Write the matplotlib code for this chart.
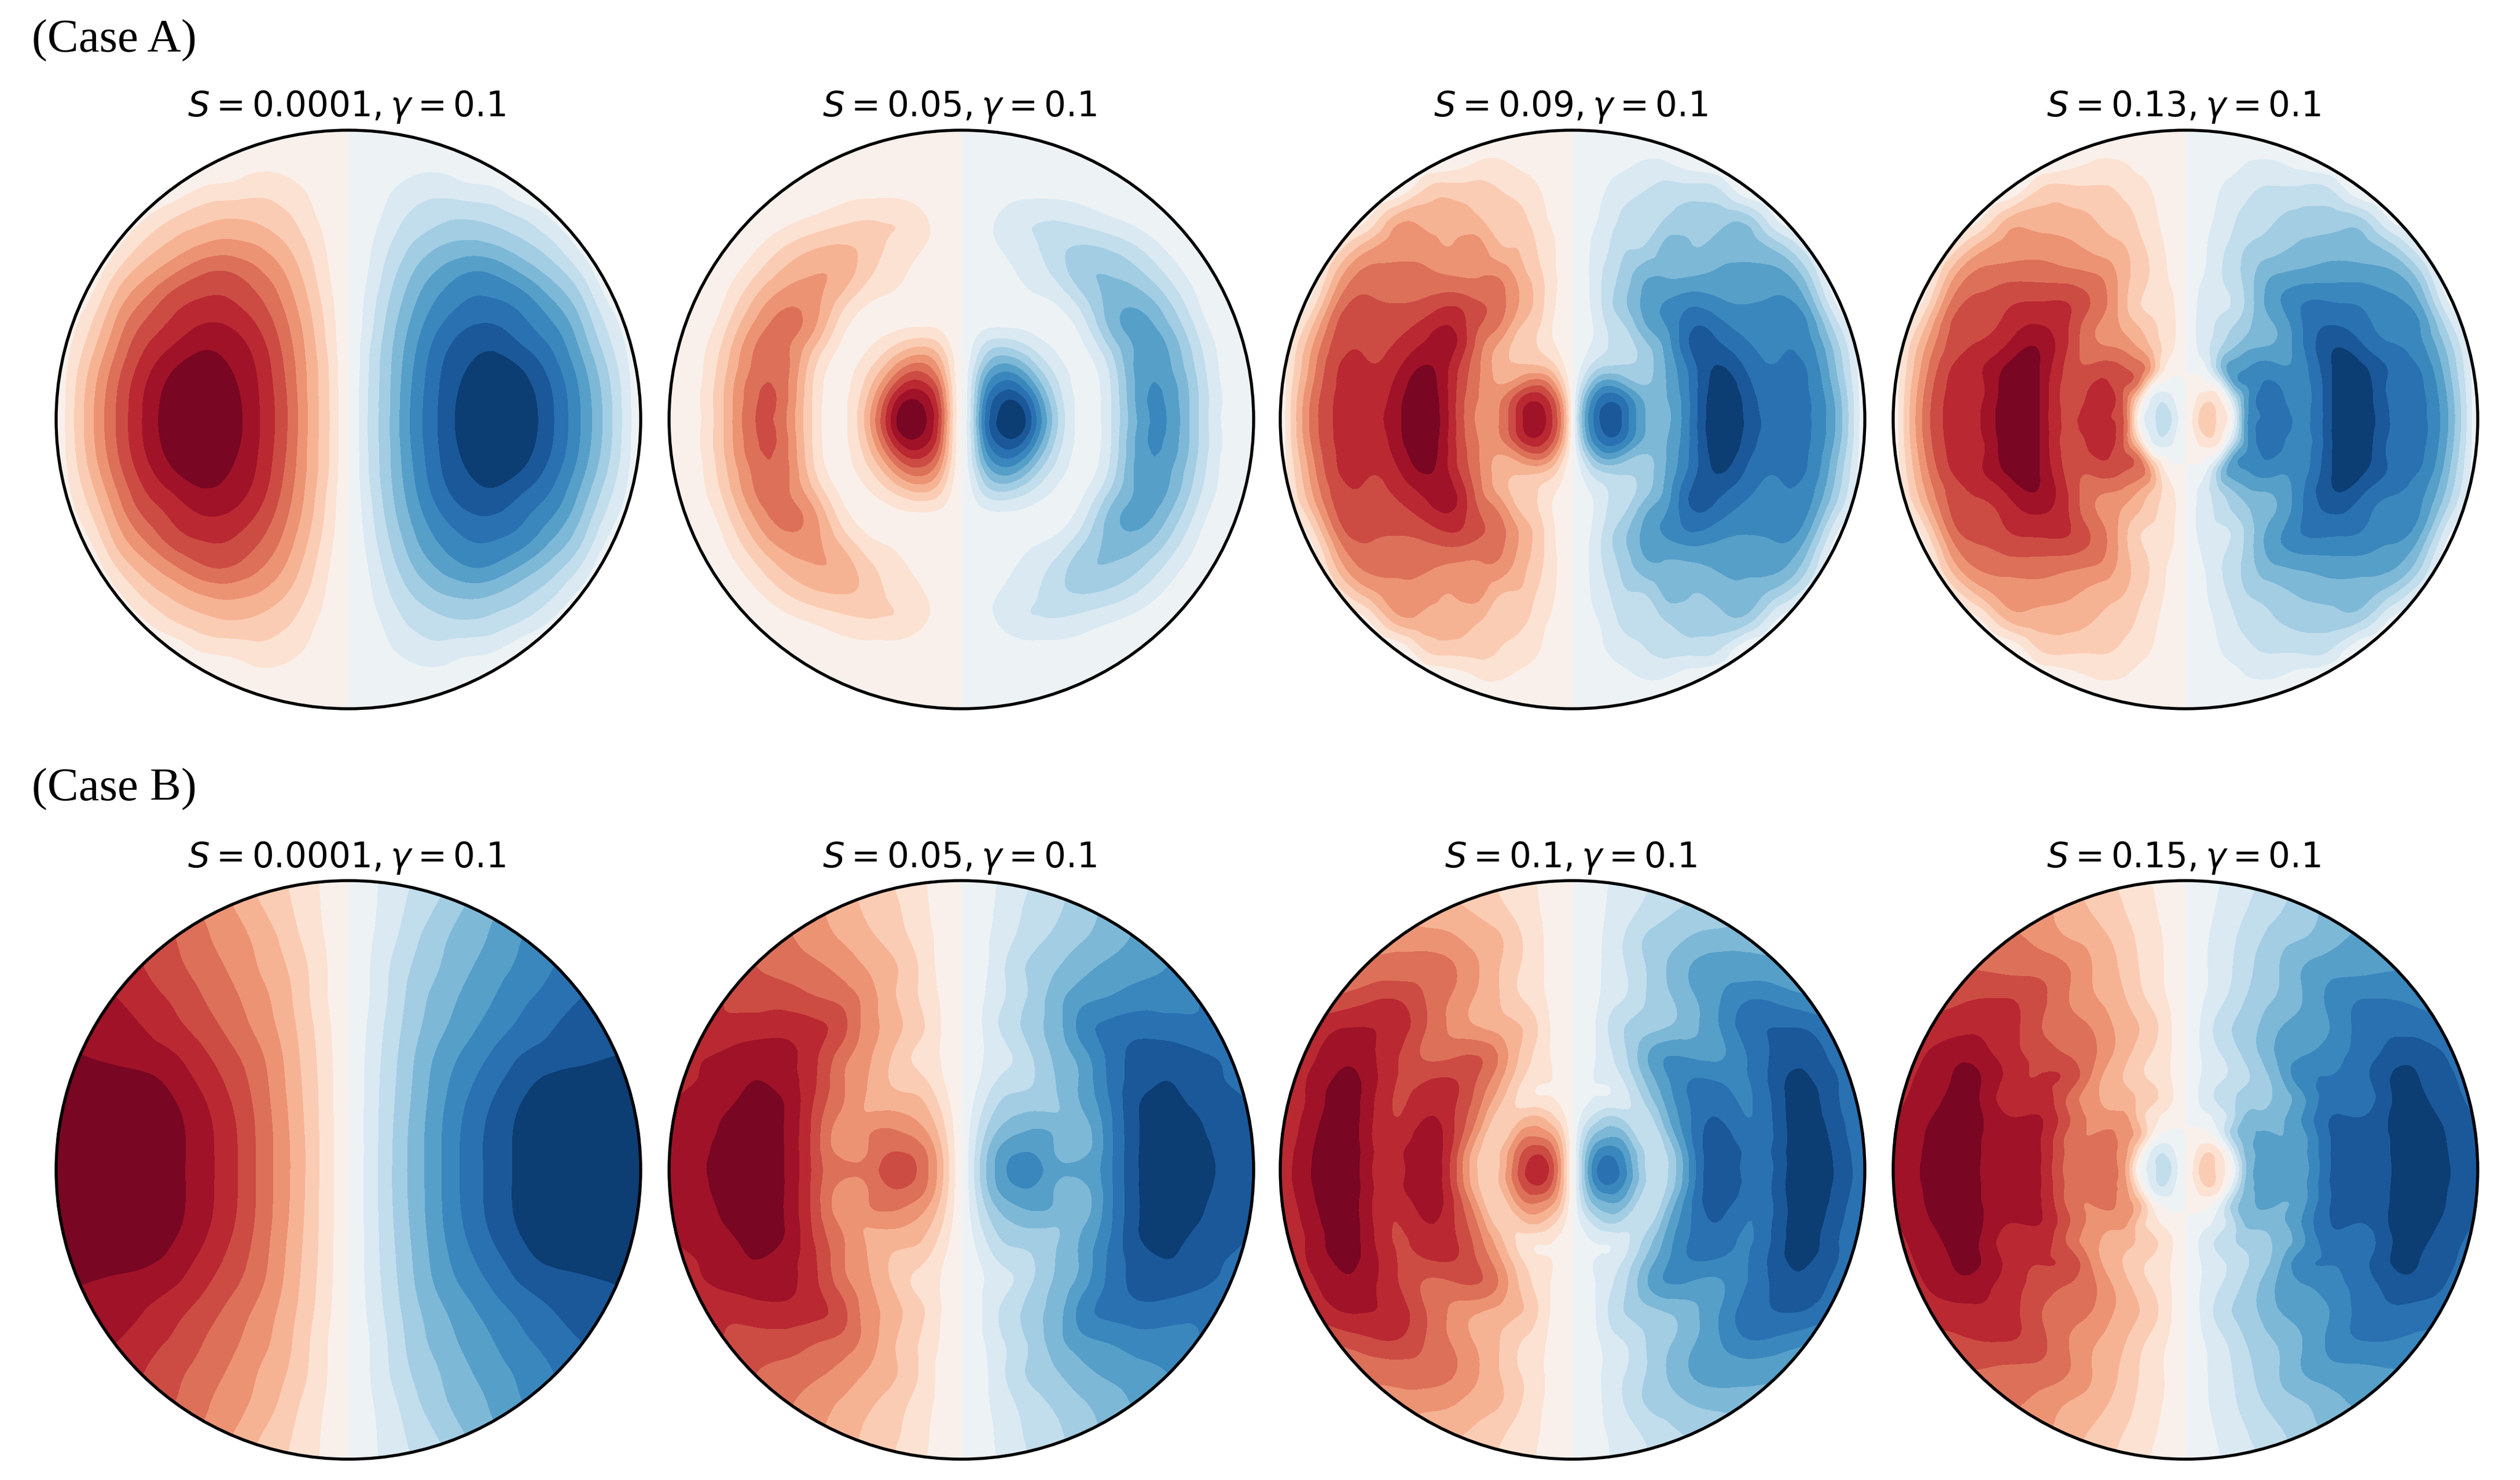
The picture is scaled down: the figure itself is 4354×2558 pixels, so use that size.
import numpy as np
import matplotlib
matplotlib.use("Agg")
import matplotlib.pyplot as plt
import matplotlib.tri as tri
from matplotlib.patches import Circle

W, H = 4354, 2558

# field values are contour level numbers, for the upper left quadrant
# (u = distance left of the centre line, v = distance above the centre, both in radii)
U_FINE = [0, .03, .07, .12, .18, .25, .32, .4, .5, .6, .7, .8, .9, 1]
U_CORE = [0, .03, .07, .12, .16, .2, .25, .32, .4, .5, .6, .7, .8, .9, 1]
V_FINE = [0, .06, .12, .18, .25, .32, .4, .5, .6, .7, .8, .9, 1]

V_A1 = [0, .1, .2, .3, .4, .5, .6, .7, .8, .9, 1]
A1 = [
    [0, .85, 2.15, 3.45, 5.2, 6.95, 8.3, 9.5, 10.2, 9.7, 8.1, 5.9, 3.15, 0],
    [0, .83, 2.1, 3.4, 5.1, 6.85, 8.2, 9.3, 9.95, 9.45, 7.95, 5.75, 3, 0],
    [0, .77, 2, 3.33, 4.9, 6.6, 7.95, 8.85, 9.3, 8.67, 7.3, 5.16, 2.5, 0],
    [0, .67, 1.7, 3.05, 4.55, 6.1, 7.3, 8.15, 8.35, 7.5, 6.4, 4.3, 1.75, 0],
    [0, .57, 1.45, 2.65, 4, 5.4, 6.4, 7.1, 7.2, 6.6, 5.2, 3.3, .85, 0],
    [0, .45, 1.1, 2.15, 3.35, 4.55, 5.4, 6.1, 6, 5, 3.7, 2, 0, 0],
    [0, .36, .85, 1.65, 2.6, 3.45, 4.05, 4.35, 4.1, 3.3, 2.25, .7, 0, 0],
    [0, .28, .65, 1.1, 1.85, 2.4, 2.75, 2.9, 2.6, 1.9, .85, 0, 0, 0],
    [0, .18, .4, .75, 1.15, 1.55, 1.6, 1.3, 1.05, .25, 0, 0, 0, 0],
    [0, .07, .15, .3, .45, .55, .55, .3, 0, 0, 0, 0, 0, 0],
    [0, 0, 0, 0, 0, 0, 0, 0, 0, 0, 0, 0, 0, 0],
]
A2 = [
    [0, 2, 6.2, 9, 10.1, 7.5, 3.6, .8, 1.6, 5, 6.05, 3.4, .8, 0],
    [0, 1.9, 5.8, 8.5, 9.2, 6.8, 3.2, .8, 1.6, 5.2, 5.95, 3.4, .9, 0],
    [0, 1.7, 4.9, 7.1, 7.4, 5.2, 2.5, .7, 1.7, 5.2, 5.75, 3.3, .8, 0],
    [0, 1.3, 3.6, 5.3, 5.3, 3.5, 1.7, .65, 2, 5.3, 5.4, 3, .7, 0],
    [0, .8, 2.1, 3, 2.8, 1.8, .9, .7, 2.9, 5.2, 5.1, 2.6, .6, 0],
    [0, .35, .8, 1, .95, .7, .55, 1.2, 4, 5.4, 4.4, 2, .3, 0],
    [0, .1, .25, .4, .5, .7, 1, 2.2, 4.3, 4.8, 3.4, 1.3, 0, 0],
    [0, .15, .3, .45, .9, 1.5, 2.2, 3.5, 4, 3.4, 2, .6, 0, 0],
    [0, .25, .6, .95, 1.5, 1.9, 2.6, 3.05, 2.8, 2, .85, .1, 0, 0],
    [0, .2, .6, 1, 1.6, 1.85, 1.85, 1.6, 1.1, .6, .1, 0, 0, 0],
    [0, .05, .1, .2, .4, .5, .55, .5, .3, .1, 0, 0, 0, 0],
    [0, 0, 0, 0, 0, 0, 0, 0, 0, 0, 0, 0, 0, 0],
    [0, 0, 0, 0, 0, 0, 0, 0, 0, 0, 0, 0, 0, 0],
]
A3 = [
    [0, 4, 7, 8.8, 7.6, 5, 4.7, 7, 9.9, 8.7, 7.7, 7.2, 5, 0],
    [0, 3.5, 6.5, 8, 7.2, 4.9, 4.9, 7, 9.8, 8.6, 7.6, 7.2, 4.9, 0],
    [0, 2.2, 4.6, 5.9, 5, 4, 5, 7.1, 9.5, 8.3, 7.4, 7.1, 4.5, 0],
    [0, 1.1, 2.5, 3.2, 3.2, 3.5, 5.1, 7.3, 9.1, 7.8, 7.1, 7, 4.1, 0],
    [0, .6, 1.2, 2, 2.5, 3.7, 5.4, 8, 8.3, 7.2, 6.85, 6.6, 3.6, 0],
    [0, .4, 1, 2.1, 3, 4.9, 6, 7.8, 7.5, 6.6, 6.6, 6.2, 2.6, 0],
    [0, .5, 1.25, 2.6, 3.9, 5.4, 6.1, 6.8, 6.3, 6, 6.2, 5.2, 1.1, 0],
    [0, .55, 1.3, 2.4, 3.5, 4.8, 4.9, 4.9, 5.2, 5.4, 5.35, 3.5, 0, 0],
    [0, .5, 1.15, 1.9, 2.9, 3.1, 4.3, 4.1, 4.45, 4.65, 3.5, 1.5, 0, 0],
    [0, .4, .85, 1.4, 2.3, 2.5, 3, 3.45, 3.55, 3.3, .8, 0, 0, 0],
    [0, .3, .6, 1.05, 1.5, 1.95, 2.3, 2.35, 2, 0, 0, 0, 0, 0],
    [0, .1, .25, .5, .7, 1, .9, .3, 0, 0, 0, 0, 0, 0],
    [0, 0, 0, 0, 0, 0, 0, 0, 0, 0, 0, 0, 0, 0],
]
A4 = [
    [0, -1.3, -2.6, -1.6, .3, 5, 7, 7.5, 6.8, 9, 10, 8, 7.3, 5, 0],
    [0, -.8, -1.95, -1.1, 1.5, 5, 7.2, 7.4, 6.6, 9, 9.9, 7.9, 7.3, 4.9, 0],
    [0, -.4, -.3, 1.2, 4.6, 6, 6.9, 7, 6.6, 9, 9.8, 7.8, 7.2, 4.6, 0],
    [0, .3, 1, 4, 5.5, 5.9, 6.4, 6.2, 6.6, 9, 9.3, 7.9, 7, 4.2, 0],
    [0, .8, 1.7, 3, 3.9, 4.6, 5, 5.3, 6.9, 8.9, 8.3, 7.2, 6.4, 3.6, 0],
    [0, .9, 1.6, 2.4, 3, 3.6, 4.4, 5.2, 7, 8.1, 7.5, 6.7, 6.1, 2.6, 0],
    [0, .8, 1.5, 1.7, 2.1, 3, 4.5, 5.9, 7, 7.1, 6.9, 6.3, 5.2, 1.1, 0],
    [0, .6, 1.1, 1.9, 2.6, 3.2, 4.3, 5.1, 5.4, 5.6, 5.6, 5.3, 3.5, 0, 0],
    [0, .4, .95, 1.7, 2.3, 2.9, 3.3, 3.7, 4.2, 4.5, 4.5, 3.4, 1.3, 0, 0],
    [0, .3, .7, 1.3, 1.8, 2.3, 2.6, 3, 3.3, 3.4, 3, .8, 0, 0, 0],
    [0, .2, .45, 1, 1.3, 1.6, 2, 2.1, 2.2, 1.9, 0, 0, 0, 0, 0],
    [0, .08, .15, .4, .6, .85, 1, .9, .4, 0, 0, 0, 0, 0, 0],
    [0, 0, 0, 0, 0, 0, 0, 0, 0, 0, 0, 0, 0, 0, 0],
]

U_B1 = [0, .1, .2, .3, .4, .5, .6, .7, .8, .9, 1]
V_B1 = [0, .2, .3, .4, .5, .6, .7, .8, .9, 1]
B1 = [
    [0, 2, 4, 5.7, 7.3, 8.4, 9.4, 10.2, 10.8, 11, 11.2],
    [0, 1.95, 3.85, 5.6, 7.1, 8.25, 9.25, 10.2, 10.8, 11, 11],
    [0, 1.9, 3.7, 5.4, 6.7, 7.8, 8.7, 9.45, 9.8, 10, 10.2],
    [0, 1.8, 3.55, 5.1, 6.2, 7.2, 8.05, 8.4, 8.65, 8.95, 9.2],
    [0, 1.65, 3.3, 4.6, 5.6, 6.5, 7.3, 7.95, 8.3, 8.6, 8.8],
    [0, 1.45, 3.1, 4.3, 5.2, 6, 6.8, 7.4, 8, 8.2, 8.4],
    [0, 1.4, 2.85, 3.9, 4.8, 5.6, 6.3, 7, 7.5, 7.8, 8],
    [0, 1.2, 2.45, 3.65, 4.45, 5.25, 6.05, 6.6, 7, 7.3, 7.5],
    [0, 1.05, 2.1, 3.1, 4.1, 4.9, 5.6, 6.2, 6.7, 7, 7.3],
    [0, 1, 1.9, 2.65, 3.5, 4.4, 5.2, 6, 6.6, 7, 7.2],
]
B2 = [
    [0, 1.4, 3.4, 5.2, 6.4, 6.4, 5.4, 5.2, 6.6, 8.9, 9.8, 9.5, 8.8, 8.2],
    [0, 1.3, 3.2, 5, 5.9, 5.95, 5, 4.6, 6.5, 8.9, 9.8, 9.5, 8.7, 8.2],
    [0, 1.15, 2.7, 4.2, 5, 5.3, 4.9, 4.3, 6.5, 8.85, 9.7, 9.3, 8.6, 8.1],
    [0, .95, 2.2, 3.4, 4.1, 4.4, 4.2, 4.6, 6.6, 8.9, 9.5, 9.1, 8.5, 8],
    [0, .7, 1.6, 2.7, 3.2, 3.4, 3.9, 5, 6.9, 8.8, 9.3, 8.75, 8.3, 7.9],
    [0, .55, 1.1, 1.9, 2.4, 3, 4, 5, 7.1, 8.4, 8.95, 8.6, 8, 7.7],
    [0, .5, .95, 1.5, 2.1, 3.2, 4.2, 5.4, 7.2, 8.3, 8.5, 8.2, 7.8, 7.6],
    [0, .55, 1, 1.9, 2.7, 3.7, 4.5, 6.2, 7.2, 7.5, 7.4, 7.2, 7, 6.8],
    [0, .5, .9, 1.6, 2.4, 3.4, 4.5, 5.5, 6, 6.5, 6.6, 6.9, 7.4, 7.8],
    [0, .4, .75, 1.5, 2.5, 3.3, 3.9, 4.6, 5.2, 5.6, 6, 6.5, 6.9, 7.2],
    [0, .3, .75, 1.25, 2, 2.7, 3.25, 3.85, 4.5, 5.2, 5.8, 6.2, 6.5, 6.8],
    [0, .3, .65, 1.1, 1.75, 2.3, 2.8, 3.45, 4.2, 4.8, 5.3, 5.8, 6.2, 6.5],
    [0, .25, .6, 1, 1.55, 2.1, 2.6, 3.2, 3.9, 4.5, 5, 5.5, 5.9, 6.2],
]
B3 = [
    [0, 3, 6.4, 7.6, 6.3, 3, 2.8, 6.1, 8.9, 7.6, 8.3, 9.9, 8.9, 7.5],
    [0, 2.8, 5.6, 6.8, 5.7, 2.9, 3, 6.3, 8.8, 7.7, 8.4, 9.8, 8.8, 7.4],
    [0, 2.1, 4, 4.8, 4.3, 2.2, 3.8, 6.8, 8.5, 7.3, 8.3, 9.7, 8.6, 7.3],
    [0, 1.2, 2.3, 3.2, 2.7, 2.4, 4.7, 6.9, 8, 7, 8.4, 9.5, 8.4, 7.2],
    [0, .5, 1, 1.1, 1.7, 3.4, 5.4, 7.1, 7.5, 6.9, 8.5, 9.4, 8.2, 7],
    [0, .5, 1, 1.3, 2.3, 4.3, 5.9, 6.9, 6.8, 7, 8.6, 9.1, 8.1, 6.9],
    [0, .45, .9, 1.7, 2.9, 4.8, 5.9, 5.8, 5.8, 7.1, 8.3, 8.7, 7.6, 6.7],
    [0, .4, .85, 2, 3, 3.5, 3.9, 4.6, 6, 7.6, 7.95, 7.8, 7, 6.3],
    [0, .35, .7, 1.4, 2, 3, 3.8, 4.8, 5.9, 6.8, 6.6, 6.1, 5.7, 5.3],
    [0, .3, .65, 1.3, 2, 3, 4, 5, 5.5, 5.45, 5.3, 5, 4.8, 4.6],
    [0, .3, .6, 1.3, 2.1, 3.1, 3.5, 4.1, 4.45, 4.6, 4.4, 4.2, 4, 3.8],
    [0, .25, .5, 1.1, 1.6, 2.3, 2.8, 3.2, 3.4, 3.6, 3.5, 3.4, 3.3, 3.2],
    [0, .2, .45, .95, 1.45, 1.9, 2.3, 2.7, 3, 3.2, 3.2, 3.1, 3, 3],
]
B4 = [
    [0, -1.2, -2.6, -1.4, .2, 3.5, 5.3, 5.8, 5.6, 8.1, 8.5, 8.95, 9.9, 9.1, 8.1],
    [0, -.8, -1.9, -1, 1.4, 4, 5.1, 5.4, 5.7, 8.1, 8.5, 9, 9.8, 9, 8.1],
    [0, -.35, -.3, 1.1, 3.3, 4.4, 5.1, 5, 5.7, 8.1, 8.4, 9.05, 9.7, 8.9, 8],
    [0, .4, .7, 1.6, 2.7, 4.1, 4.4, 4.7, 6.1, 8.05, 8.05, 9.1, 9.5, 8.7, 7.9],
    [0, .7, 1.55, 2.35, 2.85, 3.3, 3.6, 4.3, 5.8, 7.5, 7.4, 8.9, 9.2, 8.4, 7.7],
    [0, .6, 1.3, 1.85, 2.3, 2.8, 3.4, 4.8, 6.7, 7.05, 7.6, 9, 9, 8.2, 7.5],
    [0, .65, 1.3, 2, 2.55, 3.2, 4, 5.2, 5.9, 6.6, 7.4, 8.4, 8.6, 7.9, 7.3],
    [0, .6, 1.5, 2.45, 3, 3.4, 4, 4.9, 5.3, 6.1, 7.4, 7.8, 7.5, 7.3, 7],
    [0, .5, 1.05, 1.7, 2.3, 2.9, 3.5, 4.1, 5, 6.3, 6.9, 6.9, 6.7, 6.5, 6.3],
    [0, .5, .95, 1.5, 2, 2.6, 3.2, 4, 5, 5.6, 5.7, 5.9, 5.9, 5.8, 5.7],
    [0, .4, .9, 1.4, 1.8, 2.4, 2.9, 3.6, 4, 4.7, 5.2, 5.4, 5.4, 5.4, 5.3],
    [0, .3, .7, 1.2, 1.5, 1.9, 2.4, 2.9, 3.6, 4.2, 4.7, 5, 5, 5, 5],
    [0, .25, .6, 1, 1.3, 1.6, 2, 2.5, 3.1, 3.7, 4.2, 4.6, 4.7, 4.7, 4.7],
]

TITLES_A = ["0.0001", "0.05", "0.09", "0.13"]
TITLES_B = ["0.0001", "0.05", "0.1", "0.15"]

CENTERS_X = [602, 1661, 2717, 3776]
CENTERS_Y = [725, 2022]
TITLE_Y = [201, 1499]
RX, RY = 505, 500
levels = np.arange(-10, 11)


def full_field(u, v, table):
    # the field is odd across the centre line and even across the horizontal axis
    table = np.array(table, dtype=float)
    xs = np.concatenate([-np.array(u)[::-1], np.array(u)[1:]])
    ys = np.concatenate([-np.array(v)[::-1], np.array(v)[1:]])
    left = table[:, ::-1]
    right = -table[:, 1:]
    upper = np.hstack([left, right])
    zz = np.vstack([upper[::-1], upper[1:]])
    return xs, ys, zz


def draw_panel(col, row, u, v, table, s_label):
    cx, cy = CENTERS_X[col], CENTERS_Y[row]
    ax = fig.add_axes([(cx - RX) / W, 1 - (cy + RY) / H, 2 * RX / W, 2 * RY / H])
    ax.set_xlim(-1, 1)
    ax.set_ylim(-1, 1)
    ax.axis("off")

    xs, ys, zz = full_field(u, v, table)
    xx, yy = np.meshgrid(xs, ys)
    mesh = tri.Triangulation(xx.ravel(), yy.ravel())
    fine_mesh, fine_z = tri.UniformTriRefiner(mesh).refine_field(zz.ravel(), subdiv=3)
    fine_z = np.clip(fine_z, -9.999, 9.999)

    # smoothing overshoot must not flip the sign away from the central core
    outer = np.hypot(fine_mesh.x, fine_mesh.y) > 0.3
    fine_z[outer] = np.abs(fine_z[outer]) * -np.sign(fine_mesh.x[outer])

    cs = ax.tricontourf(fine_mesh, fine_z, levels=levels, cmap="RdBu_r")
    cs.set_clip_path(Circle((0, 0), 1.005, transform=ax.transData))

    ax.add_patch(Circle((0, 0), 1, fill=False, edgecolor="black", linewidth=1.25, clip_on=False, zorder=3))
    fig.text(cx / W - 0.0007, 1 - TITLE_Y[row] / H, rf"$S = {s_label}, \gamma = 0.1$",
             ha="center", va="baseline", fontsize=14.3, color="black")


fig = plt.figure(figsize=(W / 300, H / 300), dpi=300)

panels_a = [(U_FINE, V_A1, A1), (U_FINE, V_FINE, A2), (U_FINE, V_FINE, A3), (U_CORE, V_FINE, A4)]
panels_b = [(U_B1, V_B1, B1), (U_FINE, V_FINE, B2), (U_FINE, V_FINE, B3), (U_CORE, V_FINE, B4)]

for i, (u, v, table) in enumerate(panels_a):
    draw_panel(i, 0, u, v, table, TITLES_A[i])
for i, (u, v, table) in enumerate(panels_b):
    draw_panel(i, 1, u, v, table, TITLES_B[i])

fig.text(55 / W, 1 - 90 / H, "(Case A)", family="Liberation Serif", fontsize=19.4, va="baseline")
fig.text(55 / W, 1 - 1384 / H, "(Case B)", family="Liberation Serif", fontsize=19.4, va="baseline")

fig.savefig("out.png", dpi=300)
